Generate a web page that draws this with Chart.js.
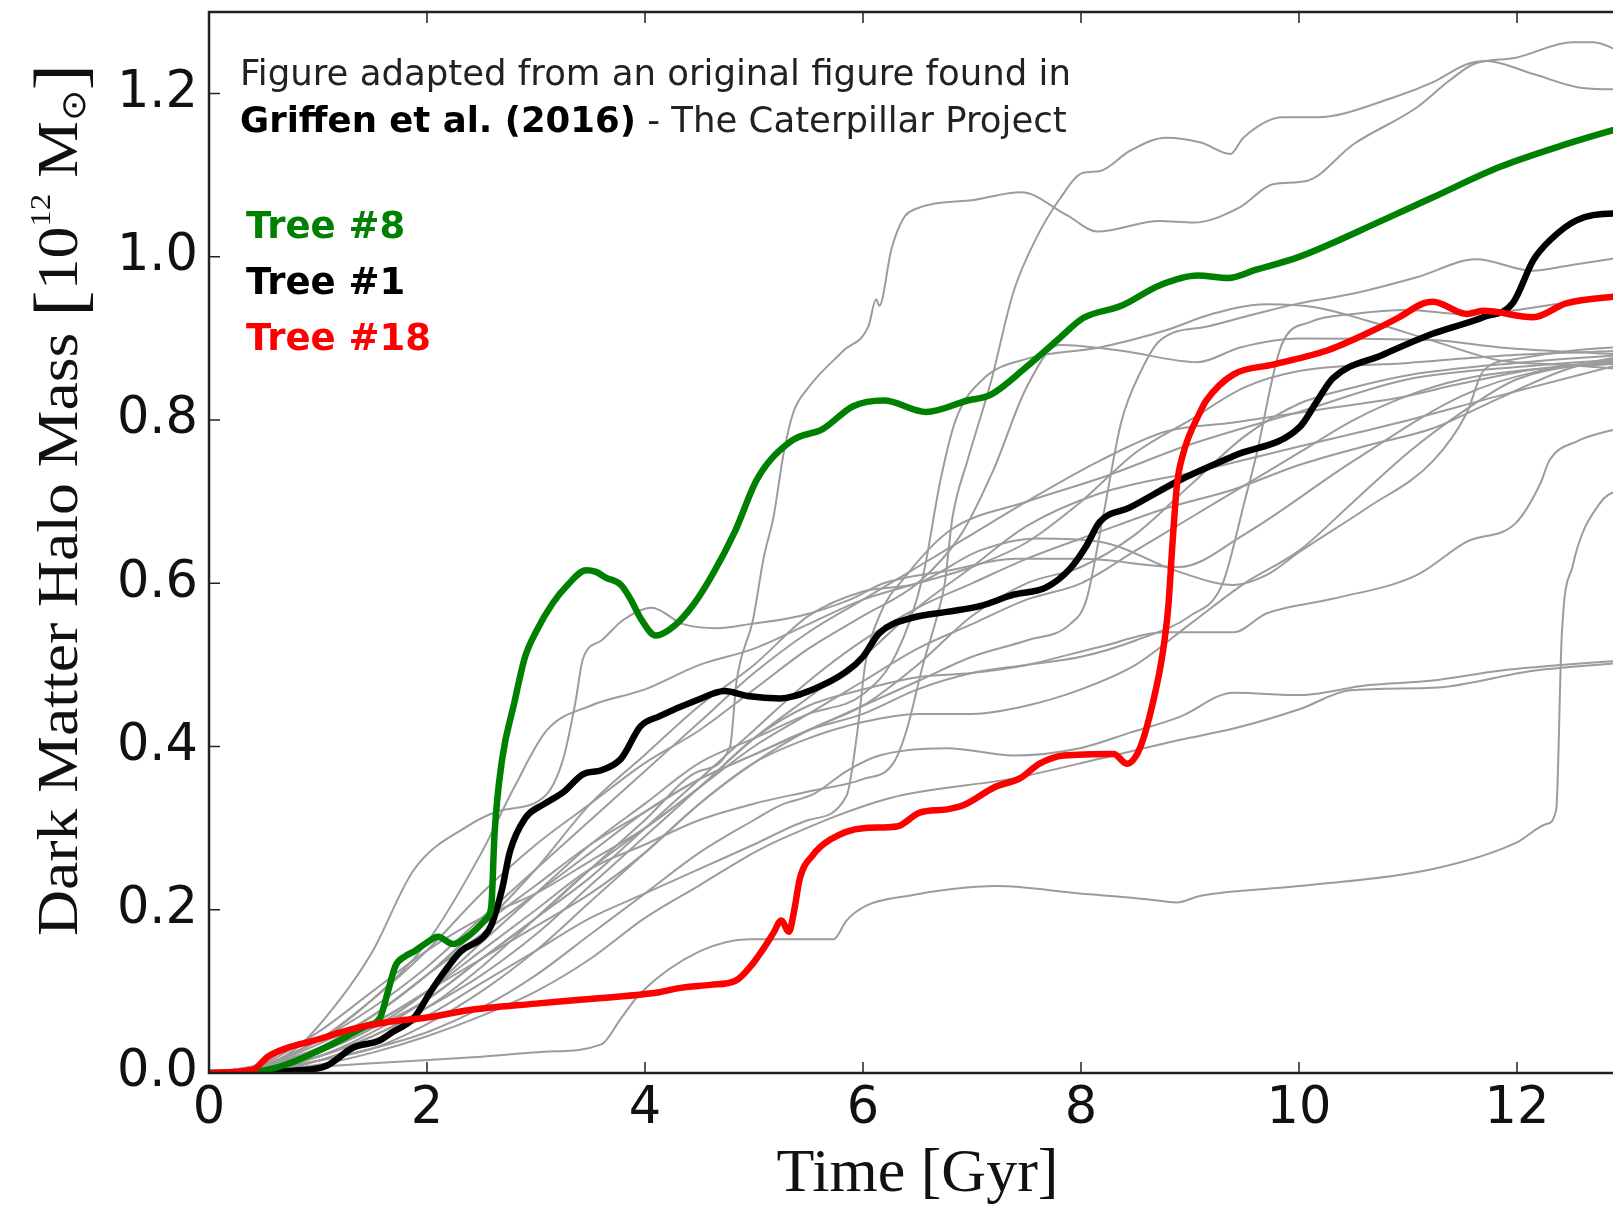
<!DOCTYPE html>
<html>
<head>
<meta charset="utf-8">
<title>Dark matter halo growth</title>
<script src="https://cdn.jsdelivr.net/npm/chart.js@4.4.1/dist/chart.umd.min.js"></script>
<style>
  html, body { margin: 0; padding: 0; background: #fff; overflow: hidden; }
  #chart { position: absolute; left: 0; top: 0; }
</style>
</head>
<body>
<canvas id="chart" width="1640" height="1215"></canvas>
<script>
// axis ticks
const xTicks = [0, 2, 4, 6, 8, 10, 12];
const yTicks = [0, 0.2, 0.4, 0.6, 0.8, 1.0, 1.2];

// highlighted trees, [time Gyr, mass 1e12 Msun]
const tree8 = [[0,0],[0.4,0.001],[0.6,0.006],[0.8,0.015],[1.0,0.027],[1.2,0.04],[1.32,0.049],[1.45,0.058],[1.57,0.068],[1.64,0.099],[1.71,0.131],[1.8,0.143],[1.88,0.149],[2.0,0.16],[2.1,0.167],[2.24,0.158],[2.35,0.165],[2.45,0.176],[2.55,0.19],[2.59,0.204],[2.62,0.294],[2.69,0.385],[2.8,0.453],[2.9,0.51],[3.01,0.543],[3.15,0.575],[3.29,0.598],[3.46,0.616],[3.55,0.614],[3.64,0.607],[3.78,0.598],[3.87,0.58],[3.96,0.557],[4.1,0.536],[4.27,0.548],[4.45,0.575],[4.62,0.611],[4.83,0.665],[5.03,0.728],[5.35,0.775],[5.63,0.789],[5.91,0.817],[6.19,0.824],[6.58,0.81],[6.96,0.824],[7.17,0.831],[7.49,0.864],[7.8,0.9],[8.02,0.925],[8.37,0.94],[8.72,0.965],[9.07,0.977],[9.35,0.974],[9.6,0.984],[10.0,1.0],[10.77,1.045],[11.23,1.073],[11.84,1.11],[12.45,1.138],[13,1.16]];
const tree1 = [[0,0],[0.5,0.001],[0.8,0.003],[1.08,0.009],[1.32,0.031],[1.57,0.04],[1.67,0.049],[1.88,0.0675],[2.03,0.099],[2.17,0.126],[2.31,0.149],[2.52,0.167],[2.59,0.181],[2.69,0.226],[2.76,0.271],[2.9,0.312],[3.08,0.33],[3.25,0.344],[3.43,0.366],[3.6,0.371],[3.78,0.385],[3.96,0.425],[4.13,0.437],[4.48,0.457],[4.73,0.468],[4.94,0.462],[5.24,0.459],[5.54,0.47],[5.85,0.492],[6.0,0.51],[6.15,0.539],[6.46,0.558],[6.77,0.565],[7.07,0.572],[7.38,0.586],[7.68,0.595],[7.9,0.618],[8.05,0.646],[8.17,0.675],[8.45,0.693],[8.9,0.726],[9.4,0.756],[10.01,0.792],[10.16,0.822],[10.31,0.851],[10.77,0.88],[11.23,0.906],[11.69,0.926],[11.96,0.943],[12.15,0.996],[12.3,1.02],[12.55,1.045],[12.88,1.053],[13,1.053]];
const tree18 = [[0,0],[0.4,0.004],[0.54,0.02],[0.7,0.03],[0.97,0.04],[1.32,0.054],[1.67,0.063],[2.0,0.068],[2.38,0.077],[3.0,0.085],[3.43,0.09],[4.13,0.099],[4.31,0.104],[4.6,0.108],[4.83,0.113],[4.97,0.131],[5.1,0.155],[5.18,0.172],[5.25,0.187],[5.32,0.173],[5.37,0.2],[5.42,0.238],[5.54,0.267],[5.7,0.286],[6.0,0.3],[6.31,0.302],[6.52,0.319],[6.77,0.323],[6.92,0.328],[7.22,0.351],[7.44,0.361],[7.62,0.379],[7.84,0.389],[8.3,0.391],[8.42,0.379],[8.54,0.398],[8.66,0.454],[8.75,0.515],[8.8,0.57],[8.84,0.65],[8.88,0.72],[8.94,0.76],[9.09,0.809],[9.15,0.824],[9.4,0.856],[9.76,0.868],[10.25,0.885],[10.62,0.906],[10.92,0.926],[11.14,0.943],[11.23,0.945],[11.54,0.93],[11.69,0.934],[12.15,0.926],[12.45,0.943],[12.88,0.951],[13,0.952]];

// the other trees (grey)
const grey1 = [[0,0],[0.5,0.005],[1,0.02],[1.5,0.05],[2,0.09],[2.5,0.14],[3,0.19],[3.5,0.25],[4,0.31],[4.5,0.37],[4.78,0.4],[4.84,0.48],[4.99,0.555],[5.09,0.632],[5.18,0.682],[5.27,0.758],[5.36,0.809],[5.5,0.84],[5.82,0.885],[6.05,0.915],[6.12,0.948],[6.15,0.94],[6.26,1.009],[6.37,1.047],[6.47,1.058],[7.03,1.07],[7.45,1.079],[7.87,1.051],[8.15,1.031],[8.72,1.044],[9.03,1.042],[9.46,1.061],[9.76,1.089],[10.07,1.093],[10.5,1.138],[11.08,1.183],[11.38,1.216],[11.6,1.236],[11.99,1.244],[12.51,1.263],[12.7,1.263],[13,1.248]];
const grey2 = [[0,0],[0.5,0.005],[1,0.025],[1.5,0.06],[2,0.1],[2.5,0.15],[3,0.2],[3.5,0.25],[4,0.28],[4.5,0.31],[5,0.33],[5.5,0.345],[6,0.36],[6.28,0.38],[6.4,0.42],[6.55,0.5],[6.68,0.56],[6.75,0.6],[6.82,0.68],[6.96,0.751],[7.17,0.845],[7.38,0.957],[7.59,1.023],[7.8,1.07],[8.02,1.103],[8.17,1.105],[8.45,1.13],[8.78,1.146],[9.1,1.14],[9.37,1.126],[9.49,1.146],[9.85,1.171],[10.16,1.171],[10.86,1.195],[11.23,1.214],[11.54,1.236],[11.72,1.24],[12.15,1.224],[12.6,1.207],[13,1.205]];
const grey3 = [[0,0],[0.5,0.008],[1,0.03],[1.5,0.07],[2,0.12],[2.5,0.17],[3,0.22],[3.5,0.27],[4,0.32],[4.5,0.36],[5,0.39],[5.5,0.42],[6,0.45],[6.5,0.48],[7,0.51],[7.5,0.53],[7.9,0.55],[8.05,0.58],[8.2,0.68],[8.37,0.798],[8.55,0.86],[8.72,0.897],[9.17,0.915],[9.6,0.93],[10,0.943],[10.5,0.955],[11.08,0.975],[11.63,0.997],[12.14,0.983],[12.5,0.99],[13,1.0]];
const grey4 = [[0,0],[0.6,0.01],[1,0.025],[1.5,0.055],[2,0.1],[2.5,0.16],[3,0.22],[3.5,0.28],[4,0.33],[4.5,0.38],[5,0.41],[5.5,0.44],[6,0.464],[6.31,0.515],[6.55,0.609],[6.71,0.726],[6.85,0.8],[7.1,0.85],[7.5,0.875],[8.17,0.889],[8.78,0.91],[9.2,0.93],[9.7,0.942],[10.16,0.938],[10.62,0.922],[11.23,0.897],[11.84,0.873],[12.4,0.868],[13,0.862]];
const grey5 = [[0,0],[0.5,0.005],[1,0.02],[1.5,0.045],[2,0.08],[2.5,0.13],[3,0.19],[3.5,0.25],[4,0.3],[4.5,0.35],[5,0.41],[5.5,0.45],[6,0.47],[6.5,0.485],[7,0.49],[7.5,0.5],[8.17,0.522],[8.78,0.54],[9.4,0.54],[9.7,0.563],[10.31,0.581],[11.08,0.61],[11.54,0.651],[11.99,0.674],[12.21,0.721],[12.3,0.751],[12.55,0.774],[13,0.792]];
const grey6 = [[0,0],[0.5,0.005],[1,0.015],[1.5,0.03],[2,0.05],[2.5,0.08],[3,0.12],[3.5,0.17],[4,0.22],[4.5,0.27],[5,0.31],[5.24,0.328],[5.55,0.342],[5.85,0.37],[6.15,0.389],[6.77,0.398],[7.38,0.389],[7.99,0.398],[8.45,0.417],[8.9,0.436],[9.4,0.466],[10.01,0.463],[10.62,0.475],[11.23,0.481],[11.84,0.493],[13,0.506]];
const grey7 = [[0,0],[0.5,0.003],[1,0.01],[1.5,0.025],[2,0.045],[2.5,0.07],[3,0.1],[3.5,0.14],[4,0.19],[4.5,0.23],[5,0.27],[5.24,0.286],[6.25,0.337],[7.38,0.361],[8.17,0.385],[8.9,0.408],[9.4,0.422],[10.01,0.446],[10.47,0.469],[11.23,0.472],[12.15,0.493],[13,0.503]];
const grey8 = [[0,0],[0.5,0.003],[1.5,0.012],[2.5,0.02],[3.08,0.026],[3.6,0.035],[3.78,0.067],[3.96,0.098],[4.5,0.149],[4.96,0.164],[5.73,0.164],[5.85,0.187],[6.03,0.205],[6.46,0.218],[6.8,0.225],[7.22,0.229],[7.99,0.22],[8.6,0.213],[8.88,0.209],[9.09,0.217],[10.0,0.229],[11.23,0.25],[11.99,0.282],[12.27,0.305],[12.36,0.323],[12.41,0.534],[12.51,0.621],[12.76,0.698],[13,0.718]];
const grey9 = [[0,0],[0.5,0.01],[1,0.035],[1.5,0.07],[2,0.12],[2.5,0.18],[3,0.25],[3.5,0.33],[4,0.39],[4.5,0.45],[5,0.5],[5.5,0.56],[6,0.59],[6.5,0.6],[7.07,0.64],[7.6,0.655],[8.17,0.651],[8.9,0.614],[9.4,0.598],[9.7,0.61],[10.01,0.639],[10.62,0.692],[11.23,0.75],[11.54,0.809],[11.69,0.86],[12,0.875],[12.5,0.885],[13,0.89]];
const grey10 = [[0,0],[0.5,0.01],[1,0.04],[1.5,0.08],[2,0.13],[2.5,0.19],[3,0.25],[3.5,0.31],[4,0.37],[4.5,0.43],[5,0.49],[5.5,0.54],[6,0.58],[6.5,0.62],[7,0.66],[7.5,0.7],[8.17,0.75],[8.78,0.786],[9.4,0.797],[10.3,0.815],[10.9,0.827],[11.5,0.845],[12.15,0.862],[13,0.874]];
const grey11 = [[0,0],[0.5,0.006],[1,0.025],[1.5,0.055],[2,0.09],[2.5,0.14],[3,0.19],[3.5,0.24],[4,0.3],[4.5,0.36],[5,0.42],[5.5,0.48],[6,0.53],[6.5,0.57],[7,0.6],[7.5,0.63],[8.17,0.663],[8.78,0.692],[9.4,0.715],[10,0.745],[10.6,0.768],[11.23,0.79],[11.84,0.827],[12.45,0.862],[13,0.88]];
const grey12 = [[0,0],[0.5,0.004],[1,0.02],[1.5,0.045],[2,0.08],[2.5,0.12],[3,0.17],[3.5,0.23],[4,0.29],[4.5,0.35],[5,0.41],[5.5,0.46],[6,0.51],[6.5,0.57],[7,0.62],[7.5,0.67],[8.17,0.71],[9.09,0.738],[10.01,0.768],[10.92,0.797],[11.84,0.83],[13,0.87]];
const grey13 = [[0,0],[0.5,0.01],[1,0.04],[1.5,0.09],[2,0.15],[2.5,0.22],[3,0.28],[3.5,0.33],[4,0.38],[4.5,0.42],[5,0.47],[5.5,0.52],[6,0.56],[6.5,0.6],[6.9,0.66],[7.2,0.74],[7.5,0.84],[7.8,0.892],[8.37,0.885],[9.07,0.871],[9.46,0.889],[10,0.9],[11.23,0.898],[11.84,0.889],[13,0.88]];
const grey14 = [[0,0],[0.4,0.005],[0.8,0.03],[1.2,0.09],[1.5,0.149],[1.88,0.249],[2.38,0.303],[2.66,0.321],[3.08,0.339],[3.25,0.385],[3.36,0.453],[3.43,0.507],[3.6,0.53],[3.8,0.555],[4.06,0.57],[4.35,0.55],[4.66,0.545],[4.96,0.55],[5.42,0.56],[5.88,0.58],[6.19,0.6],[6.8,0.616],[7.4,0.63],[8.0,0.63],[8.9,0.62],[9.5,0.66],[10.5,0.75],[11.5,0.83],[12.2,0.86],[13,0.872]];
const grey15 = [[0,0],[0.5,0.01],[1,0.04],[1.5,0.09],[2,0.16],[2.5,0.27],[2.8,0.35],[3.1,0.42],[3.5,0.45],[4,0.47],[4.5,0.5],[5,0.52],[5.5,0.55],[6,0.58],[6.5,0.6],[7,0.62],[7.5,0.65],[8,0.7],[8.5,0.76],[9,0.8],[9.5,0.84],[10,0.86],[11,0.87],[12,0.88],[13,0.885]];
const grey16 = [[0,0],[0.6,0.005],[1,0.015],[1.5,0.04],[2,0.07],[2.5,0.11],[3,0.15],[3.5,0.19],[4,0.22],[4.5,0.25],[5,0.28],[5.5,0.31],[5.85,0.34],[5.95,0.42],[6.02,0.5],[6.15,0.56],[6.4,0.61],[6.8,0.665],[7.5,0.7],[8.2,0.73],[9,0.77],[10,0.81],[11,0.85],[12,0.865],[13,0.875]];
const grey17 = [[0,0],[0.7,0.005],[1,0.015],[1.5,0.03],[2,0.06],[2.5,0.1],[3,0.15],[3.5,0.21],[4,0.27],[4.5,0.33],[5,0.38],[5.5,0.42],[6,0.45],[6.5,0.5],[7,0.56],[7.5,0.6],[8,0.62],[8.5,0.66],[9,0.72],[9.5,0.78],[10,0.82],[10.5,0.84],[11,0.855],[12,0.87],[13,0.88]];
const grey18 = [[0,0],[0.5,0.008],[1,0.03],[1.5,0.07],[2,0.12],[2.5,0.18],[3,0.23],[3.5,0.28],[4,0.32],[4.5,0.36],[5,0.39],[5.5,0.42],[6,0.44],[6.5,0.47],[7,0.49],[7.5,0.5],[8,0.51],[8.5,0.53],[9,0.56],[9.3,0.6],[9.5,0.7],[9.6,0.752],[9.84,0.892],[10.1,0.92],[10.5,0.93],[11,0.935],[11.5,0.93],[12,0.935],[12.5,0.945],[13,0.955]];
const grey19 = [[0,0],[0.5,0.01],[1,0.03],[1.5,0.06],[2,0.1],[2.5,0.14],[3,0.18],[3.5,0.22],[4,0.27],[4.5,0.33],[5,0.38],[5.5,0.41],[6,0.43],[6.5,0.44],[7,0.44],[7.5,0.45],[8,0.47],[8.5,0.5],[9,0.55],[9.5,0.6],[10,0.64],[10.5,0.7],[11,0.76],[11.5,0.81],[12,0.85],[13,0.875]];
const grey20 = [[0,0],[0.5,0.012],[1,0.05],[1.5,0.1],[2,0.15],[2.5,0.19],[3,0.22],[3.5,0.26],[4,0.3],[4.5,0.35],[5,0.4],[5.5,0.44],[6,0.48],[6.5,0.52],[7,0.55],[7.5,0.58],[8,0.6],[8.5,0.64],[9,0.68],[9.5,0.72],[10,0.76],[10.5,0.8],[11,0.83],[11.5,0.85],[12,0.86],[13,0.87]];

const greyTrees = [grey1, grey2, grey3, grey4, grey5, grey6, grey7, grey8, grey9, grey10,
  grey11, grey12, grey13, grey14, grey15, grey16, grey17, grey18, grey19, grey20];

const noteLine1 = "Figure adapted from an original figure found in";
const noteBold = "Griffen et al. (2016)";
const noteRest = " - The Caterpillar Project";
const treeLabels = ["Tree #8", "Tree #1", "Tree #18"];
const treeColors = ["#008000", "#000000", "#ff0000"];
const yTitleMain = "Dark Matter Halo Mass ";

const toPoints = arr => arr.map(p => ({ x: p[0], y: p[1] }));

const datasets = [
  { label: "Tree #18", data: toPoints(tree18), borderColor: "#ff0000", borderWidth: 6.5, order: 0 },
  { label: "Tree #8", data: toPoints(tree8), borderColor: "#008000", borderWidth: 6.5, order: 1 },
  { label: "Tree #1", data: toPoints(tree1), borderColor: "#000000", borderWidth: 6.5, order: 2 },
];
greyTrees.forEach((t, i) => {
  datasets.push({ label: "tree " + (i + 2), data: toPoints(t), borderColor: "#9c9c9c", borderWidth: 2, order: 3 });
});

// y title with superscript and solar symbol, stretched to the reference length
function drawYTitle(ctx) {
  const serif = "'Liberation Serif'";
  const parts = [
    { t: yTitleMain, size: 58, dy: 0 },
    { t: "[", size: 72, dy: 6 },
    { t: "10", size: 58, dy: 0 },
    { t: "12", size: 30, dy: -27 },
    { t: " M", size: 58, dy: 0 },
    { t: "\u2299", size: 34, dy: 8 },
    { t: "]", size: 72, dy: 6 },
  ];
  let total = 0;
  parts.forEach(p => {
    ctx.font = p.size + "px " + serif;
    p.w = ctx.measureText(p.t).width;
    total += p.w;
  });
  const target = 872;
  ctx.save();
  ctx.translate(77, 936);
  ctx.rotate(-Math.PI / 2);
  ctx.scale(target / total, 1);
  ctx.fillStyle = "#111";
  ctx.textBaseline = "alphabetic";
  let pos = 0;
  parts.forEach(p => {
    ctx.font = p.size + "px " + serif;
    ctx.fillText(p.t, pos, p.dy);
    pos += p.w;
  });
  ctx.restore();
}

const frameAndNotes = {
  id: "frameAndNotes",
  afterDatasetsDraw(chart) {
    const { ctx, chartArea: a, scales: { x, y } } = chart;
    ctx.save();
    ctx.strokeStyle = "#222";
    ctx.lineWidth = 2.5;
    ctx.strokeRect(a.left, a.top, a.right - a.left, a.bottom - a.top);

    // inward ticks on all four sides
    ctx.lineWidth = 1.5;
    ctx.beginPath();
    xTicks.forEach(v => {
      const px = x.getPixelForValue(v);
      ctx.moveTo(px, a.bottom); ctx.lineTo(px, a.bottom - 11);
      ctx.moveTo(px, a.top); ctx.lineTo(px, a.top + 11);
    });
    yTicks.forEach(v => {
      const py = y.getPixelForValue(v);
      ctx.moveTo(a.left, py); ctx.lineTo(a.left + 11, py);
      ctx.moveTo(a.right, py); ctx.lineTo(a.right - 11, py);
    });
    ctx.stroke();

    // annotation text
    const tx = a.left + 31;
    ctx.textBaseline = "alphabetic";
    ctx.fillStyle = "#222";
    ctx.font = "35.5px 'DejaVu Sans'";
    ctx.fillText(noteLine1, tx, 85);
    ctx.font = "bold 35.5px 'DejaVu Sans'";
    ctx.fillStyle = "#000";
    ctx.fillText(noteBold, tx, 132);
    const w = ctx.measureText(noteBold).width;
    ctx.font = "35.5px 'DejaVu Sans'";
    ctx.fillStyle = "#222";
    ctx.fillText(noteRest, tx + w, 132);

    ctx.font = "bold 37px 'DejaVu Sans'";
    treeLabels.forEach((t, i) => {
      ctx.fillStyle = treeColors[i];
      ctx.fillText(t, tx + 6, 238 + i * 56);
    });
    ctx.restore();

    drawYTitle(ctx);
  }
};

new Chart(document.getElementById("chart"), {
  type: "line",
  data: { datasets },
  options: {
    responsive: false,
    animation: false,
    devicePixelRatio: 1,
    layout: { padding: { top: 12, right: 14, left: 0, bottom: 0 } },
    elements: {
      point: { radius: 0 },
      line: { cubicInterpolationMode: "monotone", borderJoinStyle: "round", borderCapStyle: "round" }
    },
    plugins: { legend: { display: false }, tooltip: { enabled: false } },
    scales: {
      x: {
        type: "linear",
        min: 0,
        max: 13,
        afterBuildTicks: s => { s.ticks = xTicks.map(v => ({ value: v })); },
        afterFit: s => { s.height = 142; s.paddingLeft = 0; s.paddingRight = 0; },
        grid: { display: false, drawTicks: false },
        border: { display: false },
        ticks: {
          autoSkip: false,
          maxRotation: 0,
          padding: 6,
          color: "#111",
          font: { family: "DejaVu Sans", size: 51 },
          callback: v => String(v)
        },
        title: {
          display: true,
          text: "Time [Gyr]",
          color: "#111",
          font: { family: "Liberation Serif", size: 62 },
          padding: { top: 0, bottom: 3 }
        }
      },
      y: {
        type: "linear",
        min: 0,
        max: 1.3,
        afterBuildTicks: s => { s.ticks = yTicks.map(v => ({ value: v })); },
        afterFit: s => { s.width = 209; s.paddingTop = 0; s.paddingBottom = 0; },
        grid: { display: false, drawTicks: false },
        border: { display: false },
        ticks: {
          autoSkip: false,
          padding: 11,
          color: "#111",
          font: { family: "DejaVu Sans", size: 51 },
          callback: v => v.toFixed(1)
        },
        title: { display: false }
      }
    }
  },
  plugins: [frameAndNotes]
});
</script>
</body>
</html>
